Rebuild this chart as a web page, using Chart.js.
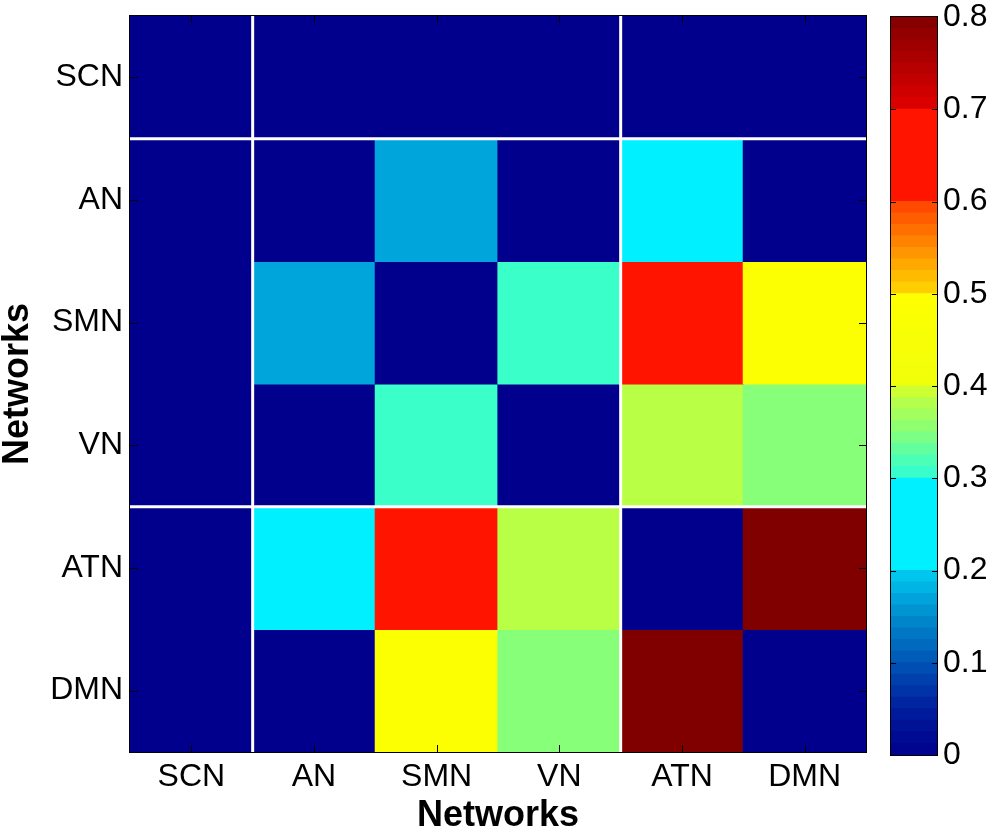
<!DOCTYPE html>
<html><head><meta charset="utf-8">
<script src="https://cdn.jsdelivr.net/npm/chart.js@4.4.0/dist/chart.umd.min.js"></script>
<style>
html,body{margin:0;padding:0;background:#fff;}
#wrap{position:relative;width:990px;height:830px;}
canvas{position:absolute;left:0;top:0;}
</style></head><body>
<div id="wrap"><canvas id="c1" width="990" height="830"></canvas><canvas id="c2" width="990" height="830"></canvas></div>
<script>
// ---- data ----
const categories = ['SCN','AN','SMN','VN','ATN','DMN'];
const groupSizes = [1,3,2];
const rowSCN = [0,0,0,0,0,0];
const rowAN  = [0,0,0.17,0,0.25,0];
const rowSMN = [0,0.17,0,0.31,0.65,0.48];
const rowVN  = [0,0,0.31,0,0.385,0.35];
const rowATN = [0,0.25,0.65,0.385,0,0.8];
const rowDMN = [0,0,0.48,0.35,0.8,0];
const matrix = [rowSCN,rowAN,rowSMN,rowVN,rowATN,rowDMN];

const cbMin = 0, cbMax = 0.8, cbLevels = 64;
const cbTicks = [0,0.1,0.2,0.3,0.4,0.5,0.6,0.7,0.8];
const cbTickLabels = ['0','0.1','0.2','0.3','0.4','0.5','0.6','0.7','0.8'];

const cmapStops = [0,0.05,0.1,0.15,0.17,0.2,0.2001,0.3,0.3001,0.31,0.35,0.385,0.4,0.4001,0.5,0.5001,0.6,0.6001,0.7,0.7001,0.8];
const cmapColors = [[0,0,140],[0,30,158],[0,85,182],[0,140,205],[0,165,220],[0,205,240],[0,240,255],[0,240,255],[55,250,205],[58,255,200],[135,255,120],[185,255,70],[220,255,35],[240,255,10],[255,255,0],[255,215,0],[255,65,0],[255,20,0],[255,20,0],[225,0,0],[128,0,0]];

function cmap(v){
  if (v <= cmapStops[0]) return 'rgb('+cmapColors[0].join(',')+')';
  for (let i=1;i<cmapStops.length;i++){
    if (v <= cmapStops[i]){
      const t=(v-cmapStops[i-1])/(cmapStops[i]-cmapStops[i-1]);
      const a=cmapColors[i-1], b=cmapColors[i];
      return 'rgb('+[0,1,2].map(k=>Math.round(a[k]+(b[k]-a[k])*t)).join(',')+')';
    }
  }
  return 'rgb('+cmapColors[cmapColors.length-1].join(',')+')';
}

const FAM = '"Liberation Sans", Arial, Helvetica, sans-serif';
function noPad(s){ s.paddingTop=0; s.paddingBottom=0; s.paddingLeft=0; s.paddingRight=0; }

const heatFrame = {
  id:'heatFrame',
  afterDatasetsDraw(chart){
    const {ctx, chartArea:a, scales:{x,y}} = chart;
    ctx.save();
    ctx.strokeStyle='#ffffff'; ctx.lineWidth=3;
    let cum=0;
    for (let g=0; g<groupSizes.length-1; g++){
      cum += groupSizes[g];
      const px=(x.getPixelForValue(cum-1)+x.getPixelForValue(cum))/2;
      const py=y.getPixelForValue(cum);
      ctx.beginPath(); ctx.moveTo(px,a.top); ctx.lineTo(px,a.bottom); ctx.stroke();
      ctx.beginPath(); ctx.moveTo(a.left,py); ctx.lineTo(a.right,py); ctx.stroke();
    }
    ctx.strokeStyle='#000'; ctx.lineWidth=1;
    ctx.strokeRect(Math.round(a.left)-0.5, Math.round(a.top)-0.5, Math.round(a.right-a.left)+1, Math.round(a.bottom-a.top)+1);
    const tl=7;
    ctx.beginPath();
    x.ticks.forEach((t,i)=>{const px=Math.round(x.getPixelForTick(i))+0.5;
      ctx.moveTo(px,a.bottom); ctx.lineTo(px,a.bottom-tl);
      ctx.moveTo(px,a.top); ctx.lineTo(px,a.top+tl);});
    y.ticks.forEach((t,i)=>{const py=Math.round(y.getPixelForTick(i))+0.5;
      ctx.moveTo(a.left,py); ctx.lineTo(a.left+tl,py);
      ctx.moveTo(a.right,py); ctx.lineTo(a.right-tl,py);});
    ctx.stroke();
    ctx.restore();
  }
};

new Chart(document.getElementById('c1'), {
  type:'bar',
  data:{
    labels:categories,
    datasets: matrix.map((row,r)=>({
      label:categories[r],
      data: row.map(()=>[r, r+1]),
      backgroundColor: row.map(v=>cmap(v)),
      borderWidth:0, inflateAmount:0.6, grouped:false, barPercentage:1, categoryPercentage:1
    }))
  },
  options:{
    responsive:false, animation:false,
    layout:{padding:{left:0,top:16,right:124,bottom:0}},
    plugins:{legend:{display:false}, tooltip:{enabled:false}},
    scales:{
      x:{type:'category', grid:{display:false, drawTicks:false}, border:{display:false},
         ticks:{font:{family:FAM,size:32,lineHeight:1}, color:'#000', padding:9, maxRotation:0, autoSkip:false},
         title:{display:true, text:'Networks', font:{family:FAM,size:36,weight:'bold',lineHeight:0.8}, color:'#000', padding:0},
         afterFit(s){s.height=78; noPad(s);}},
      y:{type:'linear', min:0, max:6, reverse:true, grid:{display:false, drawTicks:false}, border:{display:false},
         afterBuildTicks(s){s.ticks=categories.map((c,i)=>({value:i+0.5}));},
         ticks:{callback:(v)=>categories[Math.floor(v)], font:{family:FAM,size:32,lineHeight:1}, color:'#000', padding:7},
         title:{display:true, text:'Networks', font:{family:FAM,size:36,weight:'bold',lineHeight:1}, color:'#000', padding:0},
         afterFit(s){s.width=130; noPad(s);}}
    }
  },
  plugins:[heatFrame]
});

// ---- colorbar ----
const step=(cbMax-cbMin)/cbLevels;
const cbDatasets=[];
for (let i=0;i<cbLevels;i++){
  const lo=cbMin+i*step, hi=lo+step;
  cbDatasets.push({data:[[lo,hi]], backgroundColor:cmap(lo+step/2), borderWidth:0, inflateAmount:0.6, grouped:false, barPercentage:1, categoryPercentage:1});
}
const cbFrame = {
  id:'cbFrame',
  afterDatasetsDraw(chart){
    const {ctx, chartArea:a, scales:{y}} = chart;
    ctx.save();
    ctx.strokeStyle='#000'; ctx.lineWidth=1;
    ctx.strokeRect(Math.round(a.left)-0.5, Math.round(a.top)-0.5, Math.round(a.right-a.left)+1, Math.round(a.bottom-a.top)+1);
    const tl=5;
    ctx.beginPath();
    cbTicks.forEach((v,i)=>{ if(i===0||i===cbTicks.length-1) return;
      const py=Math.round(y.getPixelForValue(v))+0.5;
      ctx.moveTo(a.left,py); ctx.lineTo(a.left+tl,py);
      ctx.moveTo(a.right,py); ctx.lineTo(a.right-tl,py);});
    ctx.stroke();
    ctx.restore();
  }
};
new Chart(document.getElementById('c2'), {
  type:'bar',
  data:{labels:[''], datasets:cbDatasets},
  options:{
    responsive:false, animation:false,
    layout:{padding:{left:891,top:17,right:0,bottom:75}},
    plugins:{legend:{display:false}, tooltip:{enabled:false}},
    scales:{
      x:{display:false},
      y:{position:'right', min:cbMin, max:cbMax, grid:{display:false, drawTicks:false}, border:{display:false},
         afterBuildTicks(s){s.ticks=cbTicks.map(v=>({value:v}));},
         ticks:{callback:(v,i)=>cbTickLabels[i], font:{family:FAM,size:32,lineHeight:1}, color:'#000', padding:6},
         afterFit(s){s.width=53; noPad(s);}}
    }
  },
  plugins:[cbFrame]
});
</script>
</body></html>
